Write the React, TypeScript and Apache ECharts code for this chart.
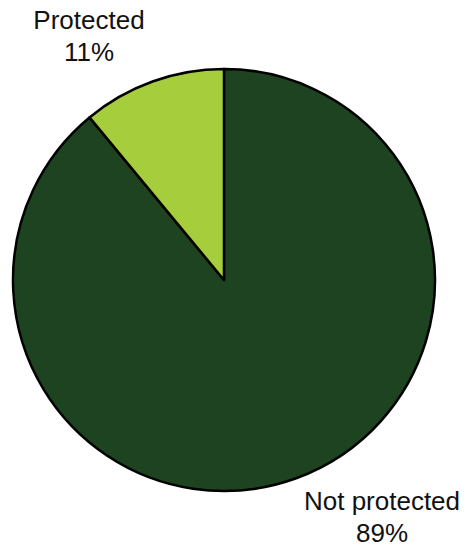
import React, { useEffect, useRef } from "react";
import * as echarts from "echarts";

const categories = ["Not protected", "Protected"];
const values = [89, 11];
const colors = ["#1d4320", "#a6cd3b"];
const labelAnchors = [
  [382, 517],
  [89, 36],
];

export default function App() {
  const ref = useRef<HTMLDivElement>(null);
  useEffect(() => {
    if (!ref.current) return;
    const chart = echarts.init(ref.current, null, { renderer: "svg" });
    chart.setOption({
      animation: false,
      backgroundColor: "#ffffff",
      series: [
        {
          type: "pie",
          center: [224, 280],
          radius: 211,
          startAngle: 90,
          clockwise: true,
          data: categories.map((c, i) => ({
            name: c,
            value: values[i],
            itemStyle: { color: colors[i] },
          })),
          itemStyle: { borderColor: "#000", borderWidth: 2.5 },
          label: {
            show: true,
            position: "outside",
            formatter: "{b}\n{d}%",
            fontFamily: "Liberation Sans, Arial, sans-serif",
            fontSize: 26,
            lineHeight: 32,
            color: "#111",
            align: "center",
            overflow: "none",
            width: 200,
          },
          labelLine: { show: false },
          labelLayout: (p: any) => ({
            x: labelAnchors[p.dataIndex][0],
            y: labelAnchors[p.dataIndex][1],
            align: "center",
            verticalAlign: "middle",
          }),
          emphasis: { disabled: true },
        },
      ],
    });
    return () => chart.dispose();
  }, []);
  return (
    <div
      ref={ref}
      style={{ position: "fixed", left: 0, top: 0, width: 464, height: 547 }}
    />
  );
}
